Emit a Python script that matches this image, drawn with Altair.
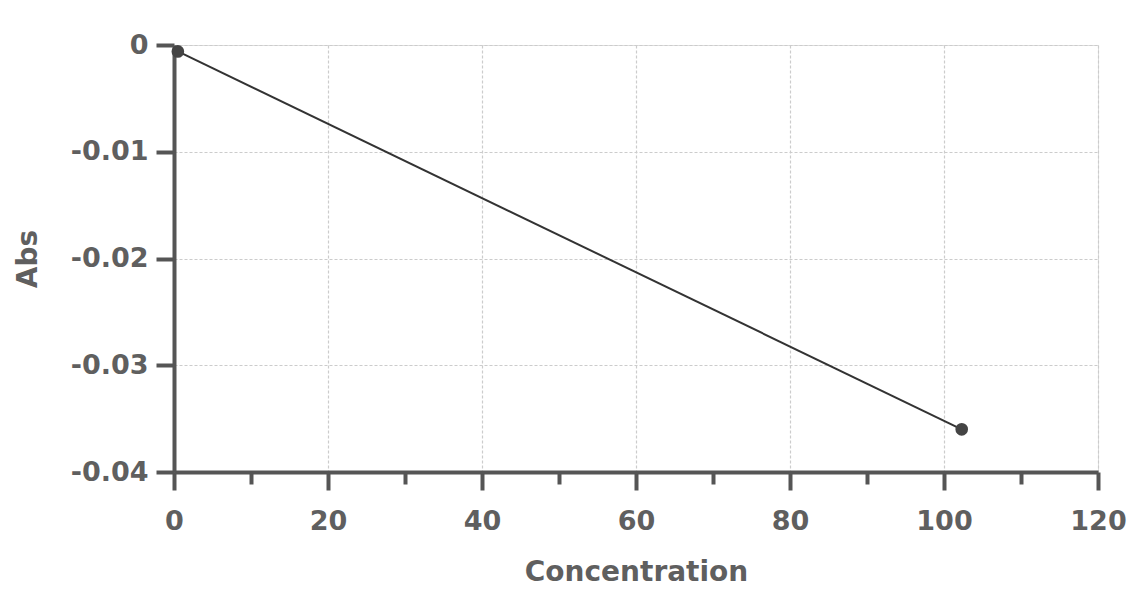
import altair as alt
import pandas as pd

conc = [0.5, 102.3]
absorb = [-0.0006, -0.036]

x_major = [0, 20, 40, 60, 80, 100, 120]
x_minor = [10, 30, 50, 70, 90, 110]
y_ticks = [-0.04, -0.03, -0.02, -0.01, 0]

df = pd.DataFrame({"Concentration": conc, "Abs": absorb})

FONT = "DejaVu Sans"
AX = "#555555"
TXT = "#5f5f5f"

base = alt.Chart(df)

x_scale = alt.Scale(domain=[0, 120], nice=False, zero=False)
y_scale = alt.Scale(domain=[-0.04, 0], nice=False, zero=False)

line = base.mark_line(color="#333333", strokeWidth=2).encode(
    x=alt.X("Concentration:Q", scale=x_scale,
            axis=alt.Axis(values=x_major, orient="bottom", title="Concentration",
                          grid=True, gridColor="#cccccc", gridDash=[3, 2], gridWidth=1.2,
                          domainColor=AX, domainWidth=4, tickColor=AX, tickWidth=4,
                          tickSize=18, labelPadding=18, labelFont=FONT, labelFontSize=27,
                          labelFontWeight="bold", labelColor=TXT, titleFont=FONT,
                          titleFontSize=28, titleFontWeight="bold", titleColor=TXT,
                          titlePadding=24, labelFlush=False)),
    y=alt.Y("Abs:Q", scale=y_scale,
            axis=alt.Axis(values=y_ticks, title="Abs", orient="left",
                          labelExpr="datum.value == 0 ? '0' : replace(format(datum.value, '.2f'), '\u2212', '-')",
                          grid=True, gridColor="#cccccc", gridDash=[3, 2], gridWidth=1.2,
                          domainColor=AX, domainWidth=4, tickColor=AX, tickWidth=4,
                          tickSize=18, labelPadding=8, labelFont=FONT, labelFontSize=27,
                          labelFontWeight="bold", labelColor=TXT, titleFont=FONT,
                          titleFontSize=28, titleFontWeight="bold", titleColor=TXT,
                          titlePadding=28, labelFlush=False)),
)

points = base.mark_point(filled=True, shape="circle", size=160, color="#444444", opacity=1).encode(
    x=alt.X("Concentration:Q", scale=x_scale,
            axis=alt.Axis(values=x_minor, orient="bottom", title=None, labels=False,
                          grid=False, domain=False, tickColor=AX, tickWidth=4, tickSize=12)),
    y=alt.Y("Abs:Q", scale=y_scale, axis=None),
)

chart = alt.layer(line, points).resolve_axis(x="independent", y="independent").properties(
    width=924,
    height=427,
    autosize=alt.AutoSizeParams(type="none"),
    padding={"left": 166, "top": 37, "right": 31, "bottom": 115},
).configure_view(stroke=None).configure(background="white")

chart.save("out.html", embed_options={"renderer": "svg", "actions": False})
